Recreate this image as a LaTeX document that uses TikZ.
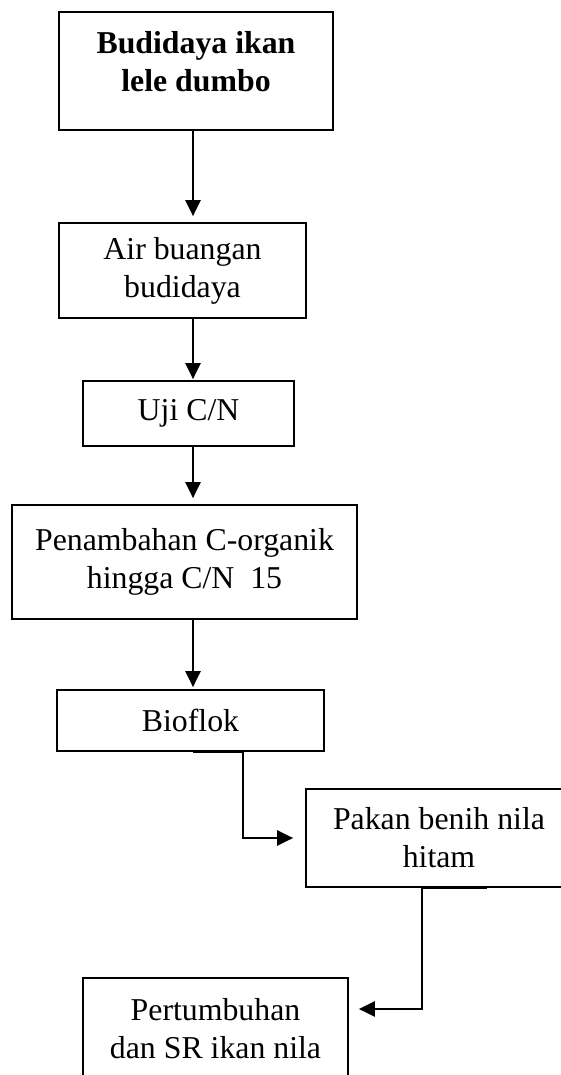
\documentclass[tikz,border=0pt]{standalone}
\usepackage{fontspec}
\setmainfont{Liberation Serif}
\usetikzlibrary{arrows.meta,calc}
\tikzset{
  box/.style={draw=black, line width=1.7pt, rectangle, inner sep=0pt, align=center},
  txt/.style={inner sep=0pt, align=center},
  conn/.style={draw=black, line width=2.3pt, -{Triangle[length=16pt,width=15pt]}},
}
\begin{document}
\begin{tikzpicture}[x=1pt,y=-1pt, font=\fontsize{31.8}{38}\selectfont]
\useasboundingbox (0,0) rectangle (561,1075);
\clip (0,0) rectangle (561,1075);
\coordinate (col) at (193,0);
\coordinate (c5) at (243,0);
\coordinate (c6) at (422,0);
\coordinate (e6) at (487,0);
% boxes
\node[box, minimum width=274pt, minimum height=118pt] (b1) at (196,71) {};
\node[txt, font=\fontsize{31.8}{38}\selectfont\bfseries] (t1) at (196,62) {Budidaya ikan\\lele dumbo};
\node[box, minimum width=247pt, minimum height=95pt] (b2) at (182.5,270.5) {Air buangan\\budidaya};
\node[box, minimum width=211pt, minimum height=65pt] (b3) at (188.5,413.5) {Uji C/N};
\node[box, minimum width=345pt, minimum height=114pt] (b4) at (184.5,562) {Penambahan C-organik\\hingga C/N\ \ 15};
\node[box, minimum width=267pt, minimum height=61pt] (b5) at (190.5,720.5) {Bioflok};
\node[box, minimum width=266pt, minimum height=98pt] (b6) at (439,838) {Pakan benih nila\\hitam};
\node[box, minimum width=265pt, minimum height=102pt] (b7) at (215.5,1029) {Pertumbuhan\\dan SR ikan nila};
% connectors
\draw[conn] (b1.south -| col) -- ([yshift=6pt]b2.north -| col);
\draw[conn] (b2.south -| col) -- ([yshift=1pt]b3.north -| col);
\draw[conn] (b3.south -| col) -- ([yshift=6pt]b4.north -| col);
\draw[conn] (b4.south -| col) -- ([yshift=2pt]b5.north -| col);
\draw[conn] (b5.south -| col) -- (b5.south -| c5) -- (b6.west -| c5) -- ([xshift=-12pt]b6.west);
\draw[conn] (b6.south -| e6) -- (b6.south -| c6) |- ([xshift=10pt]b7.east |- 0,1009);
\end{tikzpicture}
\end{document}
